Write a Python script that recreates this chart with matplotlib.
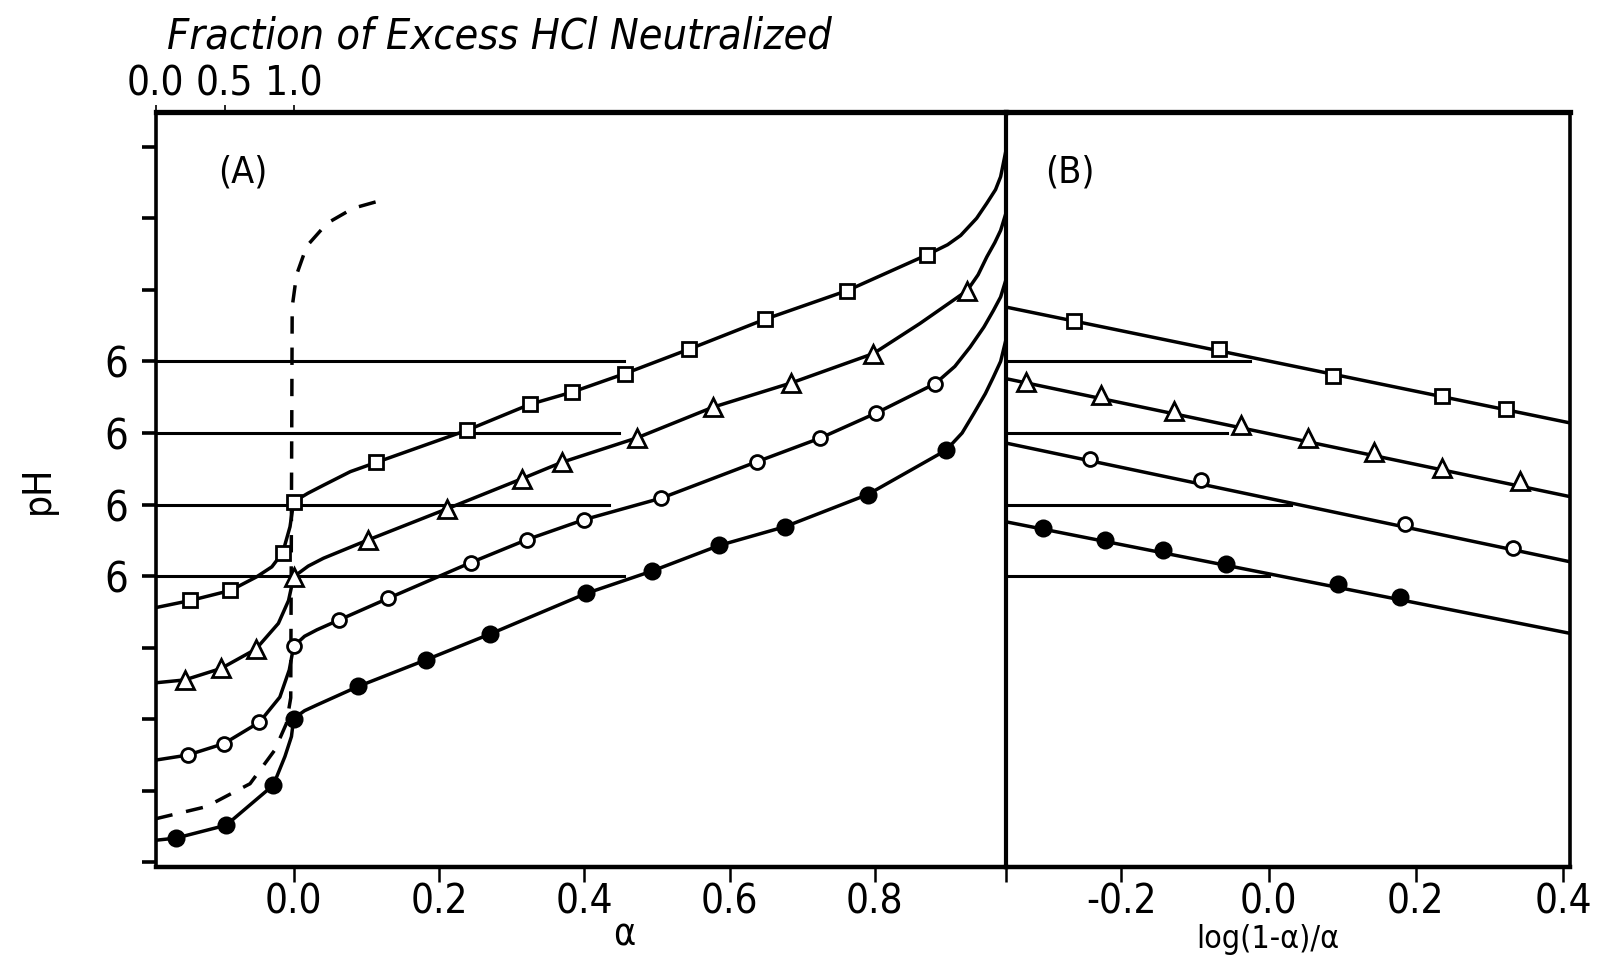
import matplotlib
matplotlib.use("Agg")
import matplotlib.pyplot as plt

plt.rcParams['font.family'] = ['DejaVu Sans']
plt.rcParams['font.stretch'] = 'condensed'

# ---- panel A data (alpha vs pH, curves offset by one tick each) ----
sq_a_x = [-0.142, -0.087, -0.015, 0.0, 0.114, 0.239, 0.325, 0.383, 0.456, 0.544, 0.649, 0.762, 0.872]
sq_a_y = [3.66, 3.80, 4.33, 5.04, 5.59, 6.04, 6.40, 6.57, 6.83, 7.17, 7.59, 7.99, 8.49]
tri_a_x = [-0.150, -0.100, -0.052, 0.0, 0.103, 0.211, 0.314, 0.369, 0.472, 0.577, 0.685, 0.798, 0.927]
tri_a_y = [2.55, 2.71, 2.98, 3.99, 4.51, 4.94, 5.36, 5.59, 5.93, 6.36, 6.70, 7.11, 7.99]
cir_a_x = [-0.146, -0.096, -0.047, 0.0, 0.063, 0.130, 0.244, 0.321, 0.400, 0.506, 0.638, 0.725, 0.802, 0.883]
cir_a_y = [1.50, 1.66, 1.96, 3.02, 3.39, 3.69, 4.19, 4.51, 4.79, 5.09, 5.60, 5.93, 6.28, 6.69]
dot_a_x = [-0.162, -0.093, -0.028, 0.0, 0.089, 0.182, 0.270, 0.403, 0.493, 0.586, 0.676, 0.790, 0.898]
dot_a_y = [0.34, 0.52, 1.08, 2.01, 2.46, 2.83, 3.19, 3.76, 4.07, 4.43, 4.69, 5.14, 5.76]

# smooth curves traced through the points
sq_line_x = [-0.19, -0.142, -0.087, -0.051, -0.030, -0.015, -0.005, 0.0, 0.020, 0.041, 0.078, 0.114,
             0.239, 0.325, 0.383, 0.456, 0.544, 0.649, 0.762, 0.872, 0.900, 0.918, 0.940, 0.954,
             0.966, 0.973, 0.980]
sq_line_y = [3.56, 3.66, 3.80, 3.99, 4.13, 4.33, 4.69, 5.04, 5.16, 5.27, 5.46, 5.59,
             6.04, 6.40, 6.57, 6.83, 7.17, 7.59, 7.99, 8.49, 8.63, 8.76, 9.00, 9.21,
             9.40, 9.58, 9.93]
tri_line_x = [-0.19, -0.150, -0.100, -0.052, -0.021, -0.007, 0.0, 0.020, 0.041, 0.101, 0.211, 0.314,
              0.369, 0.472, 0.577, 0.685, 0.798, 0.862, 0.927, 0.942, 0.954, 0.965, 0.973, 0.980]
tri_line_y = [2.51, 2.55, 2.71, 2.98, 3.34, 3.66, 3.99, 4.14, 4.25, 4.50, 4.94, 5.36,
              5.59, 5.93, 6.36, 6.70, 7.11, 7.53, 7.99, 8.21, 8.46, 8.66, 8.83, 9.06]
cir_line_x = [-0.19, -0.146, -0.096, -0.047, -0.019, -0.006, 0.0, 0.015, 0.032, 0.063, 0.130, 0.244,
              0.321, 0.400, 0.506, 0.638, 0.725, 0.802, 0.883, 0.910, 0.931, 0.950, 0.963, 0.973, 0.980]
cir_line_y = [1.43, 1.50, 1.66, 1.96, 2.31, 2.69, 3.02, 3.16, 3.25, 3.39, 3.69, 4.19,
              4.51, 4.79, 5.09, 5.60, 5.93, 6.28, 6.69, 6.93, 7.20, 7.48, 7.71, 7.90, 8.13]
dot_line_x = [-0.19, -0.162, -0.093, -0.028, -0.012, -0.003, 0.0, 0.015, 0.032, 0.089, 0.182, 0.270,
              0.403, 0.493, 0.586, 0.676, 0.790, 0.898, 0.920, 0.936, 0.952, 0.963, 0.973, 0.980]
dot_line_y = [0.31, 0.34, 0.52, 1.08, 1.48, 1.76, 2.01, 2.12, 2.20, 2.46, 2.83, 3.19,
              3.76, 4.07, 4.43, 4.69, 5.14, 5.76, 6.00, 6.27, 6.55, 6.78, 7.00, 7.29]

# dashed curve (excess HCl)
dash_x = [-0.19, -0.12, -0.060, -0.026, -0.010, -0.004, -0.003, -0.002, 0.004, 0.018, 0.046, 0.082, 0.117]
dash_y = [0.61, 0.78, 1.10, 1.57, 1.94, 2.30, 5.0, 7.76, 8.21, 8.61, 8.93, 9.14, 9.24]

# pH 6 reference lines (level, right end) for each curve
ref_levels = [7, 6, 5, 4]
ref_end_a = [0.455, 0.448, 0.434, 0.455]
ref_end_b = [-0.025, -0.056, 0.031, 0.0]

# ---- panel B data ----
sq_b_x = [-0.264, -0.067, 0.088, 0.236, 0.322]
sq_b_y = [7.56, 7.17, 6.79, 6.51, 6.34]
tri_b_x = [-0.329, -0.228, -0.128, -0.038, 0.054, 0.143, 0.236, 0.342]
tri_b_y = [6.71, 6.53, 6.31, 6.11, 5.93, 5.73, 5.51, 5.33]
cir_b_x = [-0.242, -0.092, 0.185, 0.332]
cir_b_y = [5.63, 5.34, 4.73, 4.40]
dot_b_x = [-0.306, -0.222, -0.143, -0.058, 0.094, 0.178]
dot_b_y = [4.67, 4.50, 4.37, 4.17, 3.89, 3.71]
fit_b_x = [-0.357, 0.41]
fit_b_y = [[7.76, 6.14], [6.76, 5.11], [5.86, 4.20], [4.76, 3.20]]

a_ticks = [0.0, 0.2, 0.4, 0.6, 0.8]
b_ticks = [-0.2, 0.0, 0.2, 0.4]
top_ticks = [0.0, 0.5, 1.0]
y_ticks = list(range(11))

A_XLIM = (-0.19, 0.98)
B_XLIM = (-0.357, 0.41)
YLIM = (-0.07, 10.49)

fig = plt.figure(figsize=(16.04, 9.58), dpi=100)
axA = fig.add_axes([0.097, 0.0945, 0.530, 0.789])
axB = fig.add_axes([0.627, 0.0945, 0.352, 0.789])

lw = 2.5
mk = dict(color='black', lw=0, markeredgewidth=2.0, markeredgecolor='black', zorder=4)

# Panel A
axA.plot(sq_line_x, sq_line_y, color='black', lw=lw)
axA.plot(tri_line_x, tri_line_y, color='black', lw=lw)
axA.plot(cir_line_x, cir_line_y, color='black', lw=lw)
axA.plot(dot_line_x, dot_line_y, color='black', lw=lw)
axA.plot(dash_x, dash_y, color='black', lw=2.5, ls=(0, (5, 4)))
for lev, end in zip(ref_levels, ref_end_a):
    axA.plot([A_XLIM[0], end], [lev, lev], color='black', lw=2.2)
axA.plot(sq_a_x, sq_a_y, marker='s', ms=10.5, markerfacecolor='white', **mk)
axA.plot(tri_a_x, tri_a_y, marker='^', ms=13, markerfacecolor='white', **mk)
axA.plot(cir_a_x, cir_a_y, marker='o', ms=10, markerfacecolor='white', **mk)
axA.plot(dot_a_x, dot_a_y, marker='o', ms=11, markerfacecolor='black', **mk)

# Panel B
for fy in fit_b_y:
    axB.plot(fit_b_x, fy, color='black', lw=lw)
for lev, end in zip(ref_levels, ref_end_b):
    axB.plot([B_XLIM[0], end], [lev, lev], color='black', lw=2.2)
axB.plot(sq_b_x, sq_b_y, marker='s', ms=10.5, markerfacecolor='white', **mk)
axB.plot(tri_b_x, tri_b_y, marker='^', ms=13, markerfacecolor='white', **mk)
axB.plot(cir_b_x, cir_b_y, marker='o', ms=10, markerfacecolor='white', **mk)
axB.plot(dot_b_x, dot_b_y, marker='o', ms=11, markerfacecolor='black', **mk)

tick_font = 29
for ax, xl in ((axA, A_XLIM), (axB, B_XLIM)):
    ax.set_xlim(*xl)
    ax.set_ylim(*YLIM)
    ax.patch.set_visible(False)
    for s in ax.spines.values():
        s.set_linewidth(2.6)
    ax.spines['top'].set_linewidth(3.8)
    ax.spines['bottom'].set_linewidth(3.2)
axA.spines['right'].set_linewidth(3.0)
axB.spines['left'].set_visible(False)

axA.set_xticks(a_ticks + [A_XLIM[1]])
axA.set_xticklabels([f'{t:.1f}' for t in a_ticks] + [''], fontsize=tick_font)
axA.set_yticks(y_ticks)
axA.set_yticklabels(['6' if t in ref_levels else '' for t in y_ticks], fontsize=30)
axA.tick_params(axis='x', direction='out', length=11, width=1.8, pad=0)
axA.tick_params(axis='y', direction='out', length=10, width=2.6, pad=10)

axB.set_xticks(b_ticks)
axB.set_xticklabels([f'{t:.1f}' for t in b_ticks], fontsize=tick_font)
axB.set_yticks([])
axB.tick_params(axis='x', direction='out', length=11, width=1.8, pad=0)

# top axis: fraction of excess HCl neutralized
top = axA.secondary_xaxis('top', functions=(lambda a: (a - A_XLIM[0]) / -A_XLIM[0],
                                            lambda f: A_XLIM[0] + f * -A_XLIM[0]))
top.set_xticks(top_ticks)
top.set_xticklabels([f'{t:.1f}' for t in top_ticks], fontsize=29)
top.tick_params(direction='out', length=5, width=1.2, pad=0)
top.spines['top'].set_visible(False)

fig.text(0.104, 0.962, 'Fraction of Excess HCl Neutralized', fontsize=31, style='italic',
         va='center', ha='left')

axA.text(-0.07, 9.64, '(A)', fontsize=27, ha='center', va='center')
axB.text(-0.27, 9.64, '(B)', fontsize=27, ha='center', va='center')

axA.set_ylabel('pH', fontsize=28, labelpad=34)
axA.set_xlabel('α', fontsize=27, va='bottom')
axA.xaxis.set_label_coords(0.551, -0.114)
axB.set_xlabel('log(1-α)/α', fontsize=23, va='bottom')
axB.xaxis.set_label_coords(0.465, -0.116)

fig.savefig('out.png', dpi=100)
